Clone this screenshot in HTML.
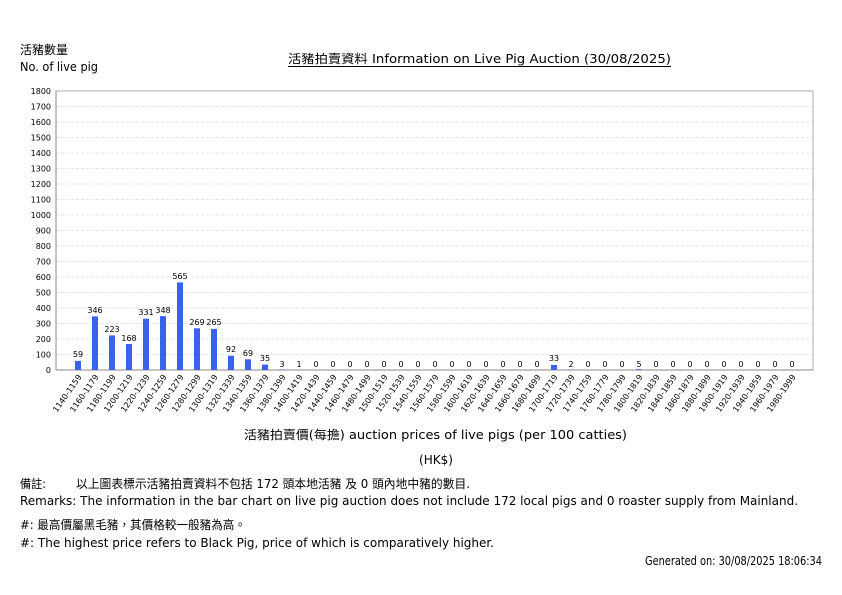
<!DOCTYPE html>
<html><head><meta charset="utf-8"><style>
html,body{margin:0;padding:0;background:#fff;width:842px;height:595px;overflow:hidden}
svg{display:block;font-family:"DejaVu Sans","Liberation Sans","Noto Sans CJK TC",sans-serif}
.t{font-size:12px;fill:#000}
.y{font-size:8px;text-anchor:end}
.v{font-size:8px;text-anchor:middle}
.x{font-size:8px;text-anchor:end}
</style></head><body>
<svg width="842" height="595" viewBox="0 0 842 595">
<text class="t" x="20" y="54" textLength="48" lengthAdjust="spacingAndGlyphs">活豬數量</text>
<text class="t" x="20" y="71" textLength="78" lengthAdjust="spacingAndGlyphs">No. of live pig</text>
<text class="t" x="288" y="63" font-size="13" textLength="383" lengthAdjust="spacingAndGlyphs">活豬拍賣資料 Information on Live Pig Auction (30/08/2025)</text>
<line x1="288" y1="66.5" x2="671" y2="66.5" stroke="#000" stroke-width="1"/>
<g stroke="#ddd" stroke-dasharray="3,2" stroke-width="0.7">
<line x1="56" x2="813" y1="91" y2="91"/><line x1="56" x2="813" y1="106.5" y2="106.5"/><line x1="56" x2="813" y1="122" y2="122"/><line x1="56" x2="813" y1="137.5" y2="137.5"/><line x1="56" x2="813" y1="153" y2="153"/><line x1="56" x2="813" y1="168.5" y2="168.5"/><line x1="56" x2="813" y1="184" y2="184"/><line x1="56" x2="813" y1="199.5" y2="199.5"/><line x1="56" x2="813" y1="215" y2="215"/><line x1="56" x2="813" y1="230.5" y2="230.5"/><line x1="56" x2="813" y1="246" y2="246"/><line x1="56" x2="813" y1="261.5" y2="261.5"/><line x1="56" x2="813" y1="277" y2="277"/><line x1="56" x2="813" y1="292.5" y2="292.5"/><line x1="56" x2="813" y1="308" y2="308"/><line x1="56" x2="813" y1="323.5" y2="323.5"/><line x1="56" x2="813" y1="339" y2="339"/><line x1="56" x2="813" y1="354.5" y2="354.5"/>
</g>
<rect x="56" y="91" width="757" height="279" fill="none" stroke="#aaa" stroke-width="1"/>
<line x1="56" y1="370" x2="813" y2="370" stroke="#888"/>
<line x1="56" y1="91" x2="56" y2="370" stroke="#888"/>
<g class="y">
<text x="51" y="94">1800</text><text x="51" y="109.5">1700</text><text x="51" y="125">1600</text><text x="51" y="140.5">1500</text><text x="51" y="156">1400</text><text x="51" y="171.5">1300</text><text x="51" y="187">1200</text><text x="51" y="202.5">1100</text><text x="51" y="218">1000</text><text x="51" y="233.5">900</text><text x="51" y="249">800</text><text x="51" y="264.5">700</text><text x="51" y="280">600</text><text x="51" y="295.5">500</text><text x="51" y="311">400</text><text x="51" y="326.5">300</text><text x="51" y="342">200</text><text x="51" y="357.5">100</text><text x="51" y="373">0</text>
</g>
<g fill="#3a62ea">
<rect x="75" y="360.9" width="6" height="9.1"/><rect x="92" y="316.4" width="6" height="53.6"/><rect x="109" y="335.4" width="6" height="34.6"/><rect x="126" y="344" width="6" height="26"/><rect x="143" y="318.7" width="6" height="51.3"/><rect x="160" y="316.1" width="6" height="53.9"/><rect x="177" y="282.4" width="6" height="87.6"/><rect x="194" y="328.3" width="6" height="41.7"/><rect x="211" y="328.9" width="6" height="41.1"/><rect x="228" y="355.7" width="6" height="14.3"/><rect x="245" y="359.3" width="6" height="10.7"/><rect x="262" y="364.6" width="6" height="5.4"/><rect x="279" y="369.5" width="6" height="0.5"/><rect x="551" y="364.9" width="6" height="5.1"/><rect x="568" y="369.7" width="6" height="0.3"/><rect x="636" y="369.2" width="6" height="0.8"/>
</g>
<g class="v">
<text x="78" y="357">59</text><text x="95" y="313">346</text><text x="112" y="332">223</text><text x="129" y="341">168</text><text x="146" y="315">331</text><text x="163" y="313">348</text><text x="180" y="279">565</text><text x="197" y="325">269</text><text x="214" y="325">265</text><text x="231" y="352">92</text><text x="248" y="356">69</text><text x="265" y="361">35</text><text x="282" y="367">3</text><text x="299" y="367">1</text><text x="316" y="367">0</text><text x="333" y="367">0</text><text x="350" y="367">0</text><text x="367" y="367">0</text><text x="384" y="367">0</text><text x="401" y="367">0</text><text x="418" y="367">0</text><text x="435" y="367">0</text><text x="452" y="367">0</text><text x="469" y="367">0</text><text x="486" y="367">0</text><text x="503" y="367">0</text><text x="520" y="367">0</text><text x="537" y="367">0</text><text x="554" y="361">33</text><text x="571" y="367">2</text><text x="588" y="367">0</text><text x="605" y="367">0</text><text x="622" y="367">0</text><text x="639" y="367">5</text><text x="656" y="367">0</text><text x="673" y="367">0</text><text x="690" y="367">0</text><text x="707" y="367">0</text><text x="724" y="367">0</text><text x="741" y="367">0</text><text x="758" y="367">0</text><text x="775" y="367">0</text><text x="792" y="367">0</text>
</g>
<g class="x">
<text transform="translate(82,377) rotate(-55)">1140-1159</text><text transform="translate(99,377) rotate(-55)">1160-1179</text><text transform="translate(116,377) rotate(-55)">1180-1199</text><text transform="translate(133,377) rotate(-55)">1200-1219</text><text transform="translate(150,377) rotate(-55)">1220-1239</text><text transform="translate(167,377) rotate(-55)">1240-1259</text><text transform="translate(184,377) rotate(-55)">1260-1279</text><text transform="translate(201,377) rotate(-55)">1280-1299</text><text transform="translate(218,377) rotate(-55)">1300-1319</text><text transform="translate(235,377) rotate(-55)">1320-1339</text><text transform="translate(252,377) rotate(-55)">1340-1359</text><text transform="translate(269,377) rotate(-55)">1360-1379</text><text transform="translate(286,377) rotate(-55)">1380-1399</text><text transform="translate(303,377) rotate(-55)">1400-1419</text><text transform="translate(320,377) rotate(-55)">1420-1439</text><text transform="translate(337,377) rotate(-55)">1440-1459</text><text transform="translate(354,377) rotate(-55)">1460-1479</text><text transform="translate(371,377) rotate(-55)">1480-1499</text><text transform="translate(388,377) rotate(-55)">1500-1519</text><text transform="translate(405,377) rotate(-55)">1520-1539</text><text transform="translate(422,377) rotate(-55)">1540-1559</text><text transform="translate(439,377) rotate(-55)">1560-1579</text><text transform="translate(456,377) rotate(-55)">1580-1599</text><text transform="translate(473,377) rotate(-55)">1600-1619</text><text transform="translate(490,377) rotate(-55)">1620-1639</text><text transform="translate(507,377) rotate(-55)">1640-1659</text><text transform="translate(524,377) rotate(-55)">1660-1679</text><text transform="translate(541,377) rotate(-55)">1680-1699</text><text transform="translate(558,377) rotate(-55)">1700-1719</text><text transform="translate(575,377) rotate(-55)">1720-1739</text><text transform="translate(592,377) rotate(-55)">1740-1759</text><text transform="translate(609,377) rotate(-55)">1760-1779</text><text transform="translate(626,377) rotate(-55)">1780-1799</text><text transform="translate(643,377) rotate(-55)">1800-1819</text><text transform="translate(660,377) rotate(-55)">1820-1839</text><text transform="translate(677,377) rotate(-55)">1840-1859</text><text transform="translate(694,377) rotate(-55)">1860-1879</text><text transform="translate(711,377) rotate(-55)">1880-1899</text><text transform="translate(728,377) rotate(-55)">1900-1919</text><text transform="translate(745,377) rotate(-55)">1920-1939</text><text transform="translate(762,377) rotate(-55)">1940-1959</text><text transform="translate(779,377) rotate(-55)">1960-1979</text><text transform="translate(796,377) rotate(-55)">1980-1999</text>
</g>
<text class="t" x="244" y="439" font-size="13" textLength="383" lengthAdjust="spacingAndGlyphs">活豬拍賣價(每擔) auction prices of live pigs (per 100 catties)</text>
<text class="t" x="419" y="464" font-size="11" textLength="34" lengthAdjust="spacingAndGlyphs">(HK$)</text>
<text class="t" x="20" y="488" textLength="26" lengthAdjust="spacingAndGlyphs">備註:</text>
<text class="t" x="76" y="488" textLength="394" lengthAdjust="spacingAndGlyphs">以上圖表標示活豬拍賣資料不包括 172 頭本地活豬 及 0 頭內地中豬的數目.</text>
<text class="t" x="20" y="505" textLength="778" lengthAdjust="spacingAndGlyphs">Remarks: The information in the bar chart on live pig auction does not include 172 local pigs and 0 roaster supply from Mainland.</text>
<text class="t" x="20" y="529" textLength="226" lengthAdjust="spacingAndGlyphs">#: 最高價屬黑毛豬，其價格較一般豬為高。</text>
<text class="t" x="20" y="547" textLength="474" lengthAdjust="spacingAndGlyphs">#: The highest price refers to Black Pig, price of which is comparatively higher.</text>
<text class="t" x="645" y="565" font-size="10" textLength="177" lengthAdjust="spacingAndGlyphs">Generated on: 30/08/2025 18:06:34</text>
</svg>
</body></html>
